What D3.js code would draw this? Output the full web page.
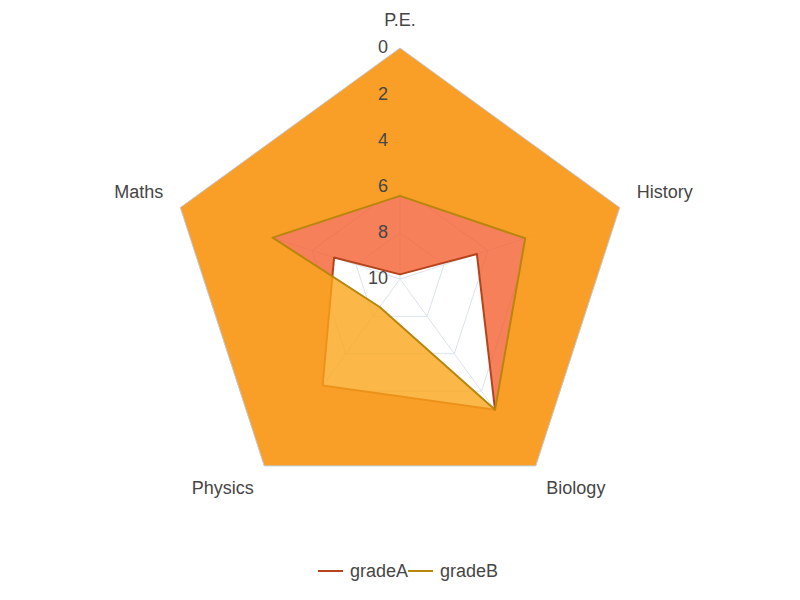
<!DOCTYPE html>
<html>
<head>
<meta charset="utf-8">
<script src="https://cdn.jsdelivr.net/npm/d3@7"></script>
<style>
  html, body { margin: 0; padding: 0; background: #fff; }
  svg { display: block; font-family: "Liberation Sans", Arial, Helvetica, sans-serif; }
</style>
</head>
<body>
<svg id="chart" width="800" height="600"></svg>
<script>
const subjects = ["P.E.", "History", "Biology", "Physics", "Maths"];
const gradeA = [9.8, 6.5, 3.0, 4.3, 7.0];
const gradeB = [6.4, 4.3, 3.0, 8.5, 4.2];
const tickValues = [0, 2, 4, 6, 8, 10];
const seriesNames = ["gradeA", "gradeB"];

const W = 800, H = 600;
const cx = 400, cy = 279, R = 231;
const fillColors = ["rgb(242,96,49)", "rgb(250,166,26)"];
const lineColors = ["#b5441c", "#b8860b"];
const fillOpacity = 0.8;

const svg = d3.select("#chart");
const g = svg.append("g").attr("transform", `translate(${cx},${cy})`);

const r = d3.scaleLinear().domain([0, 10]).range([R, 0]);
const angle = d3.scaleLinear().domain([0, subjects.length]).range([0, 2 * Math.PI]);

const radial = d3.lineRadial()
  .angle((d, i) => angle(i))
  .radius(d => r(d))
  .curve(d3.curveLinearClosed);

// grid
const gridLevels = tickValues.filter(v => v > 0 && v < 10);
gridLevels.forEach(v => {
  g.append("path")
    .attr("d", radial(subjects.map(() => v)))
    .attr("fill", "none")
    .attr("stroke", "#dbe3ee")
    .attr("stroke-width", 1);
});
subjects.forEach((s, i) => {
  const a = angle(i);
  g.append("line")
    .attr("x1", 0).attr("y1", 0)
    .attr("x2", r(0) * Math.sin(a)).attr("y2", -r(0) * Math.cos(a))
    .attr("stroke", "#dbe3ee").attr("stroke-width", 1);
});

// series: area between polygon and outer edge (value 0)
const outerPath = radial(subjects.map(() => 0));
[gradeA, gradeB].forEach((vals, k) => {
  g.append("path")
    .attr("d", outerPath + radial(vals))
    .attr("fill", fillColors[k])
    .attr("fill-opacity", fillOpacity)
    .attr("fill-rule", "evenodd");
  g.append("path")
    .attr("d", radial(vals))
    .attr("fill", "none")
    .attr("stroke", lineColors[k])
    .attr("stroke-width", 2)
    .attr("stroke-linejoin", "round");
});

// outer boundary
g.append("path")
  .attr("d", outerPath)
  .attr("fill", "none")
  .attr("stroke", "#c3ccd8")
  .attr("stroke-width", 1);

// tick labels along P.E. axis
tickValues.forEach(v => {
  g.append("text")
    .attr("x", -12)
    .attr("y", -r(v))
    .attr("dy", "0.3em")
    .attr("text-anchor", "end")
    .attr("font-size", 18)
    .attr("fill", "#464646")
    .text(v);
});

// axis names
const nameR = R + 18;
subjects.forEach((s, i) => {
  const a = angle(i);
  const x = nameR * Math.sin(a), y = -nameR * Math.cos(a);
  const sx = Math.sin(a), cyv = -Math.cos(a);
  let anchor = Math.abs(sx) < 0.1 ? "middle" : (sx > 0 ? "start" : "end");
  let dy = cyv < 0 ? -4 : 14;
  g.append("text")
    .attr("x", x).attr("y", y + dy)
    .attr("text-anchor", anchor)
    .attr("font-size", 18)
    .attr("fill", "#464646")
    .text(s);
});

// legend
const legend = svg.append("g").attr("transform", `translate(${W / 2},571)`);
const itemX = [-82, 8];
seriesNames.forEach((n, k) => {
  const lg = legend.append("g").attr("transform", `translate(${itemX[k]},0)`);
  lg.append("line").attr("x1", 0).attr("x2", 25).attr("y1", 0).attr("y2", 0)
    .attr("stroke", lineColors[k]).attr("stroke-width", 2);
  lg.append("text").attr("x", 32).attr("y", 0).attr("dy", "0.35em")
    .attr("font-size", 18).attr("fill", "#464646").text(n);
});
</script>
</body>
</html>
